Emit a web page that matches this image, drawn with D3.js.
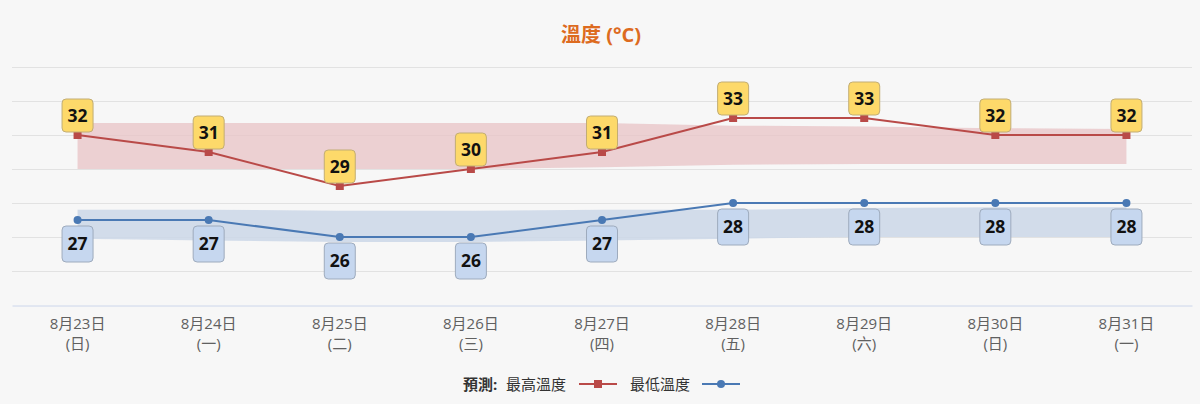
<!DOCTYPE html>
<html>
<head>
<meta charset="utf-8">
<script src="https://cdn.jsdelivr.net/npm/d3@7"></script>
<style>
  body { margin: 0; background: #f7f7f7; }
  svg { display: block; font-family: "Open Sans", "Noto Sans CJK TC", sans-serif; }
</style>
</head>
<body>
<div id="chart"></div>
<script>
// data
const dates = ["8月23日", "8月24日", "8月25日", "8月26日", "8月27日", "8月28日", "8月29日", "8月30日", "8月31日"];
const weekdays = ["(日)", "(一)", "(二)", "(三)", "(四)", "(五)", "(六)", "(日)", "(一)"];
const maxTemp = [32, 31, 29, 30, 31, 33, 33, 32, 32];
const minTemp = [27, 27, 26, 26, 27, 28, 28, 28, 28];
// normal range bands behind the lines
const maxBandHigh = [32.7, 32.7, 32.7, 32.7, 32.7, 32.55, 32.5, 32.4, 32.35];
const maxBandLow = [30.0, 30.0, 30.0, 30.0, 30.1, 30.25, 30.3, 30.3, 30.3];
const minBandHigh = [27.6, 27.6, 27.55, 27.55, 27.6, 27.6, 27.7, 27.75, 27.75];
const minBandLow = [25.9, 25.8, 25.7, 25.7, 25.8, 25.9, 26.0, 26.0, 26.0];
const yTicks = [22, 24, 26, 28, 30, 32, 34, 36];

const width = 1200, height = 404;

const svg = d3.select("#chart").append("svg")
  .attr("width", width)
  .attr("height", height);

svg.append("rect").attr("width", width).attr("height", height).attr("fill", "#f7f7f7");

const x = d3.scaleBand()
  .domain(d3.range(dates.length))
  .range([12, 1192]);
const cx = i => x(i) + x.bandwidth() / 2;

const y = d3.scaleLinear()
  .domain([22, 36])
  .range([305, 67]);

// title
svg.append("text")
  .attr("x", 601)
  .attr("y", 42)
  .attr("text-anchor", "middle")
  .attr("fill", "#dd6b1f")
  .attr("font-size", 20)
  .attr("font-weight", "bold")
  .text("溫度 (°C)");

// grid
svg.append("g").selectAll("line")
  .data(yTicks.slice(1))
  .enter().append("line")
  .attr("x1", 12).attr("x2", 1192)
  .attr("y1", d => y(d) + 0.5).attr("y2", d => y(d) + 0.5)
  .attr("stroke", "#e2e2e2");

// x axis
const xAxis = svg.append("g")
  .attr("transform", "translate(0," + (y(22) + 0.5) + ")")
  .call(d3.axisBottom(x).tickSize(0).tickFormat(""));
xAxis.select(".domain").attr("stroke", "#ccd6eb");

const xLab = svg.append("g").selectAll("text")
  .data(dates)
  .enter().append("text")
  .attr("x", (d, i) => cx(i))
  .attr("text-anchor", "middle")
  .attr("fill", "#606060")
  .attr("font-size", 15);
xLab.append("tspan").attr("x", (d, i) => cx(i)).attr("y", 329).text(d => d);
xLab.append("tspan").attr("x", (d, i) => cx(i)).attr("y", 349).text((d, i) => weekdays[i]);

// bands
const band = (hi, lo) => d3.area()
  .x((d, i) => cx(i))
  .y0((d, i) => y(lo[i]))
  .y1((d, i) => y(hi[i]));

svg.append("path")
  .datum(maxBandHigh)
  .attr("d", band(maxBandHigh, maxBandLow))
  .attr("fill", "#e9c6c8")
  .attr("opacity", 0.8);

svg.append("path")
  .datum(minBandHigh)
  .attr("d", band(minBandHigh, minBandLow))
  .attr("fill", "#cbd7e7")
  .attr("opacity", 0.85);

// lines
const line = d3.line().x((d, i) => cx(i)).y(d => y(d));

svg.append("path")
  .datum(maxTemp)
  .attr("d", line)
  .attr("fill", "none")
  .attr("stroke", "#b94a48")
  .attr("stroke-width", 2);

svg.append("path")
  .datum(minTemp)
  .attr("d", line)
  .attr("fill", "none")
  .attr("stroke", "#4a79b4")
  .attr("stroke-width", 2);

// markers
svg.append("g").selectAll("rect")
  .data(maxTemp)
  .enter().append("rect")
  .attr("x", (d, i) => cx(i) - 4)
  .attr("y", d => y(d) - 3)
  .attr("width", 8)
  .attr("height", 7)
  .attr("fill", "#b94a48");

svg.append("g").selectAll("circle")
  .data(minTemp)
  .enter().append("circle")
  .attr("cx", (d, i) => cx(i))
  .attr("cy", d => y(d))
  .attr("r", 4)
  .attr("fill", "#4a79b4");

// value labels
const hiLab = svg.append("g").selectAll("g")
  .data(maxTemp)
  .enter().append("g")
  .attr("transform", (d, i) => "translate(" + cx(i) + "," + y(d) + ")");
hiLab.append("rect")
  .attr("x", -15.5).attr("y", -36)
  .attr("width", 31).attr("height", 33)
  .attr("rx", 4)
  .attr("fill", "#fdd96a")
  .attr("stroke", "#c2ad74");
hiLab.append("text")
  .attr("y", -13)
  .attr("text-anchor", "middle")
  .attr("font-size", 17.5)
  .attr("font-weight", "bold")
  .attr("fill", "#111")
  .text(d => d);

const loLab = svg.append("g").selectAll("g")
  .data(minTemp)
  .enter().append("g")
  .attr("transform", (d, i) => "translate(" + cx(i) + "," + y(d) + ")");
loLab.append("rect")
  .attr("x", -15.5).attr("y", 6)
  .attr("width", 31).attr("height", 36)
  .attr("rx", 4)
  .attr("fill", "#c6d7ef")
  .attr("stroke", "#9eabbd");
loLab.append("text")
  .attr("y", 30)
  .attr("text-anchor", "middle")
  .attr("font-size", 17.5)
  .attr("font-weight", "bold")
  .attr("fill", "#111")
  .text(d => d);

// legend
const legend = svg.append("g").attr("font-size", 15).attr("fill", "#333");
legend.append("text").attr("x", 463).attr("y", 390).attr("font-weight", "bold").text("預測:");
legend.append("text").attr("x", 506).attr("y", 390).text("最高溫度");
legend.append("line").attr("x1", 579).attr("x2", 617).attr("y1", 384).attr("y2", 384)
  .attr("stroke", "#b94a48").attr("stroke-width", 2);
legend.append("rect").attr("x", 594).attr("y", 380).attr("width", 8).attr("height", 8).attr("fill", "#b94a48");
legend.append("text").attr("x", 630).attr("y", 390).text("最低溫度");
legend.append("line").attr("x1", 702).attr("x2", 740).attr("y1", 384).attr("y2", 384)
  .attr("stroke", "#4a79b4").attr("stroke-width", 2);
legend.append("circle").attr("cx", 721).attr("cy", 384).attr("r", 4).attr("fill", "#4a79b4");
</script>
</body>
</html>
